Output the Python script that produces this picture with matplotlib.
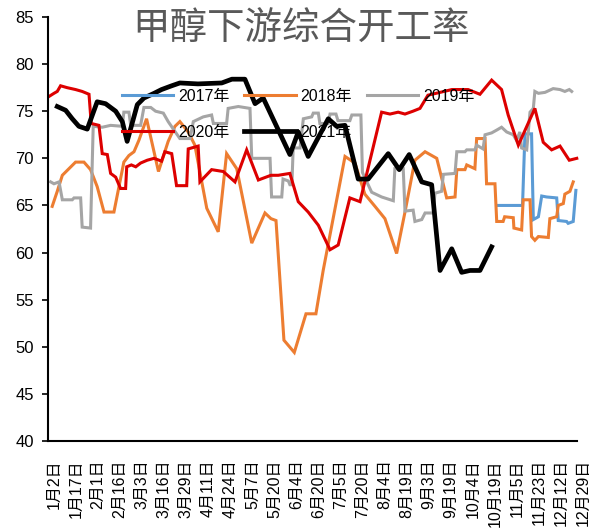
import matplotlib
matplotlib.use("Agg")
import matplotlib.pyplot as plt

plt.rcParams['font.family'] = ['Liberation Sans', 'Noto Sans CJK SC', 'DejaVu Sans']

title = "甲醇下游综合开工率"
tick_labels = ["1月2日", "1月17日", "2月1日", "2月16日", "3月3日", "3月16日", "3月29日",
               "4月11日", "4月24日", "5月7日", "5月20日", "6月4日", "6月20日", "7月5日",
               "7月20日", "8月4日", "8月19日", "9月3日", "9月19日", "10月4日", "10月19日",
               "11月5日", "11月23日", "12月12日", "12月29日"]

# x positions are in units of tick-label intervals (0 = 1月2日, 24 = 12月29日)
x2017 = [20.15, 21.25, 21.36, 21.66, 21.74, 21.97, 22.12, 22.34, 22.80, 22.87, 23.25, 23.32, 23.55, 23.67]
v2017 = [65.0, 65.0, 72.6, 72.6, 63.5, 63.8, 66.0, 65.9, 65.8, 63.4, 63.3, 63.1, 63.3, 66.6]

x2018 = [-0.08, 0.15, 0.38, 0.98, 1.36, 1.66, 1.96, 2.27, 2.72, 3.17, 3.40, 3.63, 3.85, 4.20,
         4.74, 5.18, 5.49, 5.71, 6.09, 6.39, 6.93, 7.45, 7.83, 8.29, 8.97, 9.57, 9.84, 10.07,
         10.43, 10.90, 11.43, 11.88, 12.21, 13.20, 13.65, 14.10, 14.56, 15.01, 15.54, 15.92,
         16.37, 16.83, 17.36, 17.81, 18.19, 18.27, 18.64, 18.72, 19.09, 19.17, 19.55, 19.62,
         20.00, 20.08, 20.37, 20.44, 20.83, 20.86, 21.21, 21.28, 21.59, 21.66, 21.81, 21.97,
         22.42, 22.49, 22.80, 22.87, 23.10, 23.17, 23.40, 23.55]
v2018 = [64.9, 66.5, 68.2, 69.6, 69.6, 68.8, 67.0, 64.3, 64.3, 69.6, 70.3, 70.7, 71.9, 74.2,
         68.6, 71.8, 73.4, 73.9, 72.8, 71.4, 64.7, 62.2, 70.5, 68.9, 61.0, 64.2, 63.6, 63.4,
         50.7, 49.4, 53.5, 53.5, 58.1, 70.2, 69.5, 66.2, 64.9, 63.6, 59.9, 64.3,
         69.8, 70.7, 70.0, 65.8, 65.9, 68.8, 68.8, 69.3, 68.9, 72.1, 72.1, 67.3,
         67.3, 63.3, 63.3, 63.8, 63.7, 62.6, 62.4, 65.6, 65.6, 61.7, 61.3, 61.7,
         61.6, 63.6, 63.8, 65.0, 65.2, 66.2, 66.5, 67.5]

x2019 = [-0.15, 0.00, 0.23, 0.38, 0.83, 0.91, 1.21, 1.28, 1.66, 1.78, 2.19, 2.57, 3.10, 3.17,
         3.40, 3.48, 3.93, 4.08, 4.39, 4.61, 4.96, 5.18, 5.71, 6.17, 6.32, 6.77, 7.15, 7.23,
         7.83, 7.90, 8.36, 8.89, 8.97, 9.80, 9.87, 10.33, 10.39, 10.63, 10.70, 10.79, 10.85,
         11.16, 11.31, 11.69, 11.76, 11.99, 12.06, 12.43, 12.52, 12.79, 12.88, 13.42, 13.51,
         13.92, 13.99, 14.41, 14.86, 15.39, 15.46, 15.84, 15.92, 16.29, 16.37, 16.68, 16.83,
         17.20, 17.28, 17.58, 17.66, 18.19, 18.27, 18.64, 18.72, 19.09, 19.17, 19.46, 19.55,
         19.85, 20.08, 20.30, 20.53, 20.83, 20.98, 21.13, 21.21, 21.44, 21.59, 21.74, 21.81,
         21.97, 22.27, 22.64, 22.95, 23.17, 23.37, 23.48]
v2019 = [67.5, 67.3, 67.5, 65.6, 65.6, 65.8, 65.8, 62.7, 62.6, 73.4, 73.3, 73.5, 73.4, 74.9,
         74.9, 73.5, 73.5, 75.4, 75.4, 75.0, 74.8, 73.9, 72.1, 72.1, 73.9, 74.4, 74.6, 73.7,
         73.7, 75.3, 75.5, 75.3, 70.0, 70.0, 65.9, 65.9, 67.8, 67.6, 67.2, 67.2, 71.1,
         71.1, 74.2, 74.4, 74.8, 74.8, 73.7, 73.7, 74.7, 74.7, 74.0, 74.0, 74.6,
         74.6, 68.5, 66.4, 65.9, 65.5, 68.9, 68.9, 64.4, 64.5, 63.3, 63.5, 64.2,
         64.2, 66.3, 66.5, 68.3, 68.4, 70.7, 70.7, 70.9, 70.9, 71.4, 71.0, 72.5,
         72.7, 73.0, 73.3, 72.8, 72.5, 71.9, 72.8, 71.1, 70.9, 74.9, 75.3, 77.1,
         76.9, 77.0, 77.4, 77.3, 77.1, 77.3, 77.1]

x2020 = [-0.27, 0.00, 0.15, 0.30, 0.60, 0.98, 1.28, 1.59, 1.69, 2.04, 2.19, 2.42, 2.57, 2.80,
         3.02, 3.25, 3.30, 3.51, 3.71, 3.93, 4.23, 4.54, 4.88, 5.03, 5.34, 5.56, 6.02, 6.09,
         6.54, 6.62, 7.15, 7.68, 8.21, 8.74, 9.27, 9.84, 10.17, 10.70, 11.08, 11.53, 11.99,
         12.52, 12.89, 13.42, 13.88, 14.86, 15.24, 15.61, 15.92, 16.28, 16.60, 16.96, 17.51,
         18.05, 18.78, 19.32, 19.85, 20.30, 20.60, 21.06, 21.81, 22.19, 22.57, 22.95, 23.37, 23.71]
v2020 = [76.5, 76.9, 77.1, 77.7, 77.5, 77.3, 77.1, 76.8, 73.7, 73.5, 70.5, 70.4, 68.4, 68.0,
         66.8, 66.8, 69.1, 69.3, 69.1, 69.5, 69.8, 70.0, 69.7, 70.7, 70.5, 67.1, 67.1, 71.0,
         71.3, 67.5, 68.8, 68.6, 67.5, 70.9, 67.7, 68.2, 68.2, 68.4, 65.4, 64.3, 62.9,
         60.3, 60.8, 65.8, 65.4, 74.9, 74.7, 74.9, 74.7, 75.0, 75.3, 76.7, 77.0,
         77.3, 77.3, 76.8, 78.3, 77.3, 74.6, 71.4, 75.3, 71.7, 70.9, 71.3, 69.8, 70.0]

x2021 = [0.15, 0.53, 0.83, 1.13, 1.51, 1.96, 2.34, 2.80, 3.10, 3.32, 3.78, 4.08, 4.54, 4.88,
         5.34, 5.71, 6.53, 7.61, 8.07, 8.66, 9.12, 9.49, 10.70, 11.08, 11.53, 12.44, 12.82,
         13.20, 13.80, 14.25, 15.16, 15.66, 16.11, 16.68, 17.13, 17.51, 18.04, 18.49, 18.87,
         19.32, 19.85]
v2021 = [75.5, 75.1, 74.2, 73.4, 73.1, 76.0, 75.8, 75.0, 73.9, 71.8, 75.7, 76.4, 76.9, 77.3,
         77.7, 78.0, 77.9, 78.0, 78.4, 78.4, 75.8, 76.4, 70.4, 72.8, 70.2, 74.2, 73.4,
         73.5, 67.8, 67.8, 70.5, 68.8, 70.4, 67.5, 67.2, 58.1, 60.4, 57.9, 58.1,
         58.1, 60.6]

series = [
    ("2017年", x2017, v2017, "#5B9BD5", 2.2),
    ("2018年", x2018, v2018, "#ED7D31", 2.2),
    ("2019年", x2019, v2019, "#A5A5A5", 2.2),
    ("2020年", x2020, v2020, "#DD0000", 2.2),
    ("2021年", x2021, v2021, "#000000", 3.4),
]

W, H = 594, 528
fig = plt.figure(figsize=(W / 100, H / 100), dpi=100)
x_left, x_right = -0.27, 24.1
px_per_unit = 22.05
ax_left_px = 48
ax_w_px = (x_right - x_left) * px_per_unit
ax = fig.add_axes([ax_left_px / W, (H - 441) / H, ax_w_px / W, (441 - 17) / H])

handles = {}
for name, xs, vs, c, lw in series:
    ln, = ax.plot(xs, vs, color=c, lw=lw, solid_joinstyle='miter' if lw < 3 else 'round', label=name)
    handles[name] = ln

ax.set_xlim(x_left, x_right)
ax.set_ylim(40, 85)
ax.set_yticks(range(40, 86, 5))
ax.set_xticks(range(len(tick_labels)))
ax.set_xticklabels(tick_labels, rotation=90, fontsize=11.5, va='top', ha='center')
ax.tick_params(axis='x', length=0, pad=13)
ax.tick_params(axis='y', labelsize=12, length=4, width=1.2, direction='out', pad=6)
for s in ['top', 'right']:
    ax.spines[s].set_visible(False)
ax.spines['left'].set_linewidth(1.5)
ax.spines['bottom'].set_linewidth(1.5)
ax.spines['bottom'].set_bounds(x_left, 23.72)

order = ["2017年", "2020年", "2018年", "2021年", "2019年"]
fig.legend([handles[k] for k in order], order, ncol=3, loc='upper left',
           bbox_to_anchor=(122 / W, 1 - 89 / H), frameon=False, fontsize=11.5,
           handlelength=3.2, handletextpad=0.3, columnspacing=0.95, labelspacing=1.3,
           borderpad=0, borderaxespad=0)

fig.text(301 / W, 1 - 30 / H, title, ha='center', va='center', fontsize=27, color='#595959')

fig.savefig("out.png", dpi=100)
